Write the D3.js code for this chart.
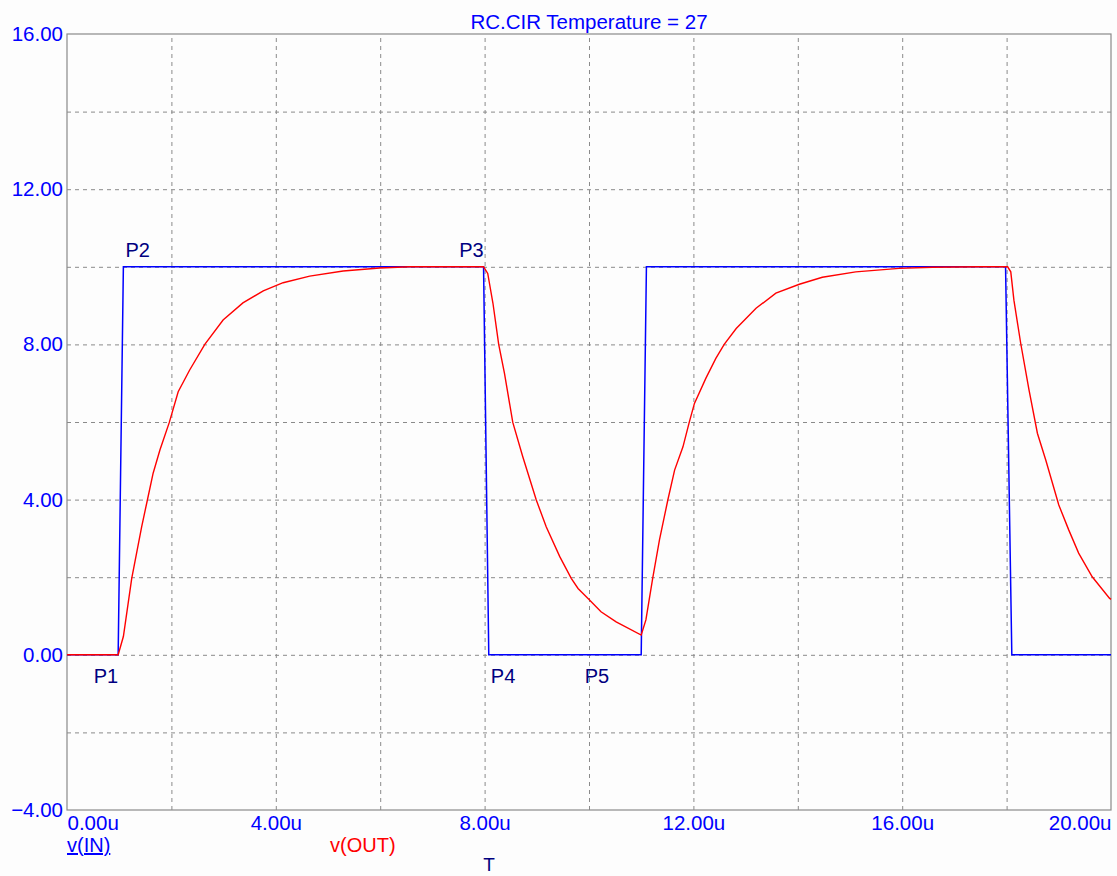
<!DOCTYPE html>
<html>
<head>
<meta charset="utf-8">
<script src="https://cdn.jsdelivr.net/npm/d3@7/dist/d3.min.js"></script>
<style>
  body { margin: 0; background: #fdfdfd; }
  text { font-family: "Liberation Sans", Arial, sans-serif; }
</style>
</head>
<body>
<div id="chart"></div>
<script>
// v(IN) pulse, time in us
var inTime = [0, 0.98, 1.08, 7.98, 8.08, 11.0, 11.1, 17.98, 18.1, 20];
var inVolt = [0, 0, 10, 10, 0, 0, 10, 10, 0, 0];

// v(OUT)
var outTime = [0, 0.98, 1.08, 1.24, 1.43, 1.54, 1.65, 1.78, 1.96, 2.13, 2.35, 2.64, 2.99, 3.37, 3.76, 4.14, 4.65, 5.29, 5.99, 6.56,
  7.98, 8.06, 8.16, 8.27, 8.38, 8.54, 8.73, 8.99, 9.18, 9.44, 9.66, 9.79, 10.01, 10.23, 10.52,
  11.0, 11.09, 11.22, 11.35, 11.51, 11.64, 11.80, 11.92, 12.02, 12.24, 12.43, 12.59, 12.82, 13.2, 13.58, 14.03, 14.47, 15.11, 15.94, 16.58, 17.47,
  18.02, 18.08, 18.14, 18.27, 18.43, 18.59, 18.75, 19.0, 19.19, 19.38, 19.64, 19.97, 20];
var outVolt = [0, 0, 0.47, 1.97, 3.30, 3.99, 4.68, 5.28, 5.99, 6.78, 7.34, 8.00, 8.63, 9.07, 9.38, 9.59, 9.76, 9.89, 9.97, 10.0,
  10.0, 9.83, 9.06, 8.0, 7.26, 5.99, 5.11, 3.99, 3.30, 2.53, 1.97, 1.71, 1.41, 1.11, 0.85,
  0.51, 0.90, 1.97, 2.96, 3.99, 4.76, 5.36, 5.99, 6.48, 7.13, 7.64, 8.0, 8.41, 8.93, 9.32, 9.55, 9.73, 9.87, 9.96, 9.99, 10.0,
  10.0, 9.87, 9.14, 8.03, 6.82, 5.71, 5.02, 3.86, 3.22, 2.62, 2.01, 1.46, 1.43];

// probe markers
var markerNames = ["P1", "P2", "P3", "P4", "P5"];
var markerTime = [1.0, 1.1, 8.0, 8.1, 9.9];
var markerVolt = [0, 10, 10, 0, 0];

var xTicks = [0, 4, 8, 12, 16, 20];
var yTicks = [-4, 0, 4, 8, 12, 16];
var xGrid = [2, 4, 6, 8, 10, 12, 14, 16, 18];
var yGrid = [-2, 0, 2, 4, 6, 8, 10, 12, 14];

var titleText = "RC.CIR Temperature = 27";

var svgWidth = 1117;
var svgHeight = 876;
var margin = { top: 34, right: 6, bottom: 66, left: 67 };
var chartWidth = svgWidth - margin.left - margin.right;
var chartHeight = svgHeight - margin.top - margin.bottom;

var svg = d3.select("#chart")
  .append("svg")
  .attr("width", svgWidth)
  .attr("height", svgHeight)
  .style("background", "#fdfdfd");

var chartGroup = svg.append("g")
  .attr("transform", "translate(" + margin.left + "," + margin.top + ")");

var xScale = d3.scaleLinear().domain([0, 20]).range([0, chartWidth]);
var yScale = d3.scaleLinear().domain([-4, 16]).range([chartHeight, 0]);

// dashed grid via axes
var xGridAxis = d3.axisBottom(xScale).tickValues(xGrid).tickSize(-chartHeight).tickFormat("");
var yGridAxis = d3.axisLeft(yScale).tickValues(yGrid).tickSize(-chartWidth).tickFormat("");

chartGroup.append("g")
  .attr("transform", "translate(0," + chartHeight + ")")
  .call(xGridAxis)
  .call(function (g) { g.select(".domain").remove(); });
chartGroup.append("g")
  .call(yGridAxis)
  .call(function (g) { g.select(".domain").remove(); });

chartGroup.selectAll(".tick line")
  .attr("stroke", "#8a8a8a")
  .attr("stroke-width", 1)
  .attr("stroke-dasharray", "4,4");

// frame
chartGroup.append("rect")
  .attr("x", 0).attr("y", 0)
  .attr("width", chartWidth).attr("height", chartHeight)
  .attr("fill", "none")
  .attr("stroke", "#8a8a8a")
  .attr("stroke-width", 1.2);

// tick labels
var yAxis = d3.axisLeft(yScale).tickValues(yTicks).tickSize(0).tickPadding(4).tickFormat(d3.format(".2f"));
chartGroup.append("g")
  .call(yAxis)
  .call(function (g) { g.select(".domain").remove(); })
  .selectAll("text")
  .attr("fill", "#0000ff")
  .style("font-size", "20.5px")
  .style("font-family", "'Liberation Sans', Arial, sans-serif");

var xAxis = d3.axisBottom(xScale).tickValues(xTicks).tickSize(0).tickPadding(4)
  .tickFormat(function (d) { return d3.format(".2f")(d) + "u"; });
var xg = chartGroup.append("g")
  .attr("transform", "translate(0," + chartHeight + ")")
  .call(xAxis)
  .call(function (g) { g.select(".domain").remove(); });
xg.selectAll("text")
  .attr("fill", "#0000ff")
  .attr("dy", "0.8em")
  .style("font-size", "20.5px")
  .style("font-family", "'Liberation Sans', Arial, sans-serif")
  .attr("text-anchor", function (d, i) {
    if (i === 0) return "start";
    if (i === xTicks.length - 1) return "end";
    return "middle";
  });

// traces
var inData = inTime.map(function (t, i) { return { t: t, v: inVolt[i] }; });
var outData = outTime.map(function (t, i) { return { t: t, v: outVolt[i] }; });

var line = d3.line()
  .x(function (d) { return xScale(d.t); })
  .y(function (d) { return yScale(d.v); });

chartGroup.append("path")
  .datum(inData)
  .attr("d", line)
  .attr("fill", "none")
  .attr("stroke", "#0000ff")
  .attr("stroke-width", 1.5);

chartGroup.append("path")
  .datum(outData)
  .attr("d", line)
  .attr("fill", "none")
  .attr("stroke", "#ff0000")
  .attr("stroke-width", 1.4);

// marker labels: P1/P3 sit left of their point, the rest right; above at 10, below at 0
var markerAnchor = ["end", "start", "end", "start", "start"];
chartGroup.selectAll(".marker")
  .data(markerNames)
  .enter()
  .append("text")
  .attr("class", "marker")
  .text(function (d) { return d; })
  .attr("x", function (d, i) { return xScale(markerTime[i]) + (markerAnchor[i] === "end" ? -1 : 1); })
  .attr("y", function (d, i) { return yScale(markerVolt[i]) + (markerVolt[i] > 5 ? -10 : 28); })
  .attr("text-anchor", function (d, i) { return markerAnchor[i]; })
  .attr("fill", "#000080")
  .style("font-size", "20px");

// title
svg.append("text")
  .attr("x", 589)
  .attr("y", 29)
  .attr("text-anchor", "middle")
  .attr("fill", "#0000ff")
  .style("font-size", "20.5px")
  .text(titleText);

// legend
svg.append("text")
  .attr("x", margin.left)
  .attr("y", 852)
  .attr("fill", "#0000ff")
  .attr("text-decoration", "underline")
  .style("font-size", "20px")
  .text("v(IN)");

svg.append("text")
  .attr("x", 330)
  .attr("y", 852)
  .attr("fill", "#ff0000")
  .style("font-size", "20px")
  .text("v(OUT)");

// x axis name
svg.append("text")
  .attr("x", 489)
  .attr("y", 871)
  .attr("text-anchor", "middle")
  .attr("fill", "#000080")
  .style("font-size", "19px")
  .text("T");
</script>
</body>
</html>
